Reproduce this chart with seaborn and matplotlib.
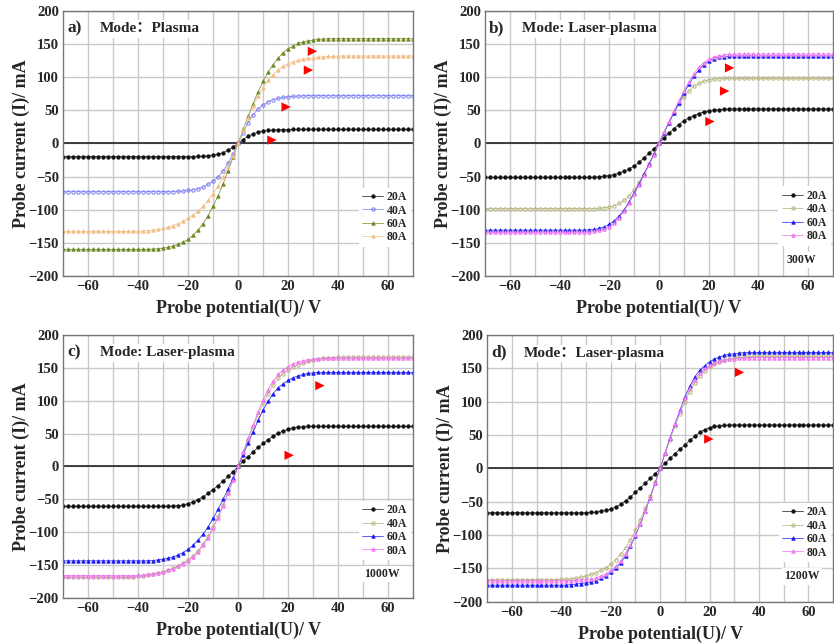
import matplotlib.pyplot as plt
import seaborn as sns

# Probe potential (V), shared by all curves
potential = [-70, -68, -66, -64, -62, -60, -58, -56, -54, -52,
             -50, -48, -46, -44, -42, -40, -38, -36, -34, -32,
             -30, -28, -26, -24, -22, -20, -18, -16, -14, -12,
             -10, -8, -6, -4, -2, 0, 2, 4, 6, 8,
             10, 12, 14, 16, 18, 20, 22, 24, 26, 28,
             30, 32, 34, 36, 38, 40, 42, 44, 46, 48,
             50, 52, 54, 56, 58, 60, 62, 64, 66, 68, 70]

currents = ["20A", "40A", "60A", "80A"]

# a) Mode: Plasma
a_20A = [-20, -20, -20, -20, -20, -20, -20, -20, -20, -20,
         -20, -20, -20, -20, -20, -20, -20, -20, -20, -20,
         -20, -20, -20, -20, -20, -19.9, -19.8, -19.6, -19.3, -18.7,
         -17.8, -16.3, -13.9, -10.3, -5.6, 0, 5.8, 10.8, 14.6, 17.1,
         18.7, 19.7, 20.2, 20.6, 20.7, 20.9, 21, 21, 21, 21,
         21, 21, 21, 21, 21, 21, 21, 21, 21, 21,
         21, 21, 21, 21, 21, 21, 21, 21, 21, 21, 21]
a_40A = [-73, -73, -73, -73, -73, -73, -73, -73, -73, -73,
         -73, -73, -73, -73, -73, -73, -73, -73, -73, -73,
         -73, -73, -72.8, -72.5, -72, -71, -70, -68.5, -66, -62,
         -57, -51, -42, -30, -16, 0, 16, 31, 43, 52,
         58, 63, 66, 68, 69.5, 70.5, 71, 71.5, 71.8, 72,
         72, 72, 72, 72, 72, 72, 72, 72, 72, 72,
         72, 72, 72, 72, 72, 72, 72, 72, 72, 72, 72]
a_60A = [-160, -160, -160, -160, -160, -160, -160, -160, -160, -160,
         -160, -160, -160, -160, -160, -160, -160, -160, -159.5, -159,
         -158, -157, -155, -152.5, -149, -145, -139, -131, -121, -109,
         -95, -79, -61, -41, -21, 0, 21, 41, 60, 78,
         94, 108, 119, 129, 137, 143, 147, 151, 153, 155,
         156, 157, 157.5, 158, 158, 158, 158, 158, 158, 158,
         158, 158, 158, 158, 158, 158, 158, 158, 158, 158, 158]
a_80A = [-133, -133, -133, -133, -133, -133, -133, -133, -133, -133,
         -133, -133, -133, -133, -133, -132.8, -132.4, -131.8, -131, -130,
         -128.5, -126.5, -124, -121, -117.5, -113, -108, -102, -95, -86,
         -76, -64, -51, -36, -19, 0, 20, 39, 56, 71,
         84, 95, 104, 111, 116.5, 120.5, 123.5, 125.5, 127, 128.3,
         129.3, 130.1, 130.7, 131.2, 131.5, 131.8, 132, 132, 132, 132,
         132, 132, 132, 132, 132, 132, 132, 132, 132, 132, 132]

# b) Laser-plasma, 300W
b_20A = [-51.5, -51.5, -51.5, -51.5, -51.5, -51.5, -51.5, -51.5, -51.5, -51.5,
         -51.5, -51.5, -51.5, -51.5, -51.5, -51.5, -51.5, -51.5, -51.5, -51.5,
         -51.5, -51.5, -51, -50.5, -49.5, -48.5, -47, -45, -42, -38.5,
         -34, -28.5, -22, -15, -8, 0, 8, 15, 22, 28.5,
         34, 38.5, 42, 45, 47.5, 49, 50, 51, 51.5, 52,
         52, 52, 52, 52, 52, 52, 52, 52, 52, 52,
         52, 52, 52, 52, 52, 52, 52, 52, 52, 52, 52]
b_40A = [-98.5, -98.5, -98.5, -98.5, -98.5, -98.5, -98.5, -98.5, -98.5, -98.5,
         -98.5, -98.5, -98.5, -98.5, -98.5, -98.5, -98.5, -98.5, -98.5, -98.5,
         -98.5, -98.5, -98.5, -98, -97.2, -96, -94, -90.5, -86, -79,
         -70, -59, -46, -31, -16, 0, 16, 31, 46, 59,
         70, 79, 86, 90.5, 94, 96, 97, 97.5, 98, 98,
         98, 98, 98, 98, 98, 98, 98, 98, 98, 98,
         98, 98, 98, 98, 98, 98, 98, 98, 98, 98, 98]
b_60A = [-131, -131, -131, -131, -131, -131, -131, -131, -131, -131,
         -131, -131, -131, -131, -131, -131, -131, -131, -131, -131,
         -131, -130.5, -130, -128.5, -126, -122, -117, -110, -100, -88,
         -75, -61, -46, -31, -16, 0, 16, 31, 46, 61,
         76, 89, 101, 111, 119, 124, 128, 130, 131, 131.5,
         132, 132, 132, 132, 132, 132, 132, 132, 132, 132,
         132, 132, 132, 132, 132, 132, 132, 132, 132, 132, 132]
b_80A = [-134, -134, -134, -134, -134, -134, -134, -134, -134, -134,
         -134, -134, -134, -134, -134, -134, -134, -134, -134, -134,
         -134, -133.7, -133, -131.5, -129, -125.5, -120, -112, -102, -90,
         -77, -63, -48, -33, -17, 0, 17, 33, 49, 64,
         79, 93, 105, 115, 122, 127, 130.5, 132.5, 133.5, 134.3,
         134.7, 135, 135, 135, 135, 135, 135, 135, 135, 135,
         135, 135, 135, 135, 135, 135, 135, 135, 135, 135, 135]

# c) Laser-plasma, 1000W
c_20A = [-60.5, -60.5, -60.5, -60.5, -60.5, -60.5, -60.5, -60.5, -60.5, -60.5,
         -60.5, -60.5, -60.5, -60.5, -60.5, -60.5, -60.5, -60.5, -60.5, -60.5,
         -60.5, -60.5, -60, -59.5, -58.5, -56.5, -54, -50.5, -46, -41,
         -35, -29, -22, -15, -8, 0, 8, 15, 22, 29,
         35, 41, 46, 50.5, 54, 56.5, 58.5, 59.8, 60.5, 61,
         61, 61, 61, 61, 61, 61, 61, 61, 61, 61,
         61, 61, 61, 61, 61, 61, 61, 61, 61, 61, 61]
c_40A = [-168, -168, -168, -168, -168, -168, -168, -168, -168, -168,
         -168, -168, -168, -168, -167.5, -167, -166.5, -165.5, -164, -162.5,
         -160.5, -158, -155, -151, -147, -142, -136, -128, -118, -106,
         -92, -76, -58, -40, -20, 0, 21, 41, 60, 79,
         96, 111, 124, 134, 141, 147, 151, 155, 158, 160,
         162, 163.5, 164.5, 165, 165.5, 166, 166, 166, 166, 166,
         166, 166, 166, 166, 166, 166, 166, 166, 166, 166, 166]
c_60A = [-143.5, -143.5, -143.5, -143.5, -143.5, -143.5, -143.5, -143.5, -143.5, -143.5,
         -143.5, -143.5, -143.5, -143.5, -143.5, -143.5, -143.5, -143.5, -143, -142,
         -141, -139.5, -137.5, -134.5, -131, -126, -120, -112, -103, -92,
         -79, -65, -50, -34, -17, 0, 18, 36, 53, 70,
         86, 99, 111, 120, 126, 131, 135, 138, 140, 141.5,
         142.5, 143, 143, 143, 143, 143, 143, 143, 143, 143,
         143, 143, 143, 143, 143, 143, 143, 143, 143, 143, 143]
c_80A = [-166, -166, -166, -166, -166, -166, -166, -166, -166, -166,
         -166, -166, -166, -166, -166, -165.5, -165, -164, -163, -161.5,
         -160, -158, -155.5, -152, -148, -143, -137, -130, -120, -108,
         -94, -78, -60, -41, -21, 0, 22, 43, 63, 83,
         101, 117, 130, 140, 147, 152, 156, 159, 161, 162.5,
         163.5, 164, 164.5, 165, 165, 165, 165, 165, 165, 165,
         165, 165, 165, 165, 165, 165, 165, 165, 165, 165, 165]

# d) Laser-plasma, 1200W
d_20A = [-66.5, -66.5, -66.5, -66.5, -66.5, -66.5, -66.5, -66.5, -66.5, -66.5,
         -66.5, -66.5, -66.5, -66.5, -66.5, -66.5, -66.5, -66.5, -66.5, -66.5,
         -66.5, -66, -65.5, -64.5, -63, -61, -58, -54, -48.5, -42.5,
         -36, -29, -22, -15, -8, 0, 8, 15, 22, 29,
         35, 42, 48, 54, 58, 61, 63, 64, 64.5, 65,
         65, 65, 65, 65, 65, 65, 65, 65, 65, 65,
         65, 65, 65, 65, 65, 65, 65, 65, 65, 65, 65]
d_40A = [-167, -167, -167, -167, -167, -167, -167, -167, -167, -167,
         -167, -167, -167, -167, -167, -166.5, -166, -165.5, -164.5, -163,
         -161.5, -159, -156.5, -153, -149, -144, -137, -129, -119, -107,
         -93, -77, -60, -41, -21, 0, 22, 43, 63, 82,
         100, 115, 128, 138, 146, 152, 156, 159.5, 162, 164,
         165.5, 166.5, 167, 167.5, 168, 168, 168, 168, 168, 168,
         168, 168, 168, 168, 168, 168, 168, 168, 168, 168, 168]
d_60A = [-175, -175, -175, -175, -175, -175, -175, -175, -175, -175,
         -175, -175, -175, -175, -175, -175, -175, -174, -173.5, -172.5,
         -171.5, -170, -168, -165, -161, -156, -150, -142, -131, -117,
         -101, -83, -64, -44, -22, 0, 23, 46, 67, 87,
         107, 123, 137, 147, 154, 160, 164, 167, 169.5, 171,
         172, 173, 173.5, 174, 174, 174, 174, 174, 174, 174,
         174, 174, 174, 174, 174, 174, 174, 174, 174, 174, 174]
d_80A = [-168, -168, -168, -168, -168, -168, -168, -168, -168, -168,
         -168, -168, -168, -168, -168, -168, -168, -168, -167.5, -167,
         -166.5, -165.5, -164, -161.5, -158, -153, -147, -139, -128, -115,
         -100, -83, -64, -44, -22, 0, 23, 45, 66, 86,
         105, 120, 133, 143, 150, 155, 158.5, 161, 162.5, 163.5,
         164.5, 165, 165.5, 166, 166, 166, 166, 166, 166, 166,
         166, 166, 166, 166, 166, 166, 166, 166, 166, 166, 166]

# red arrow-heads drawn in the figure
a_marks_x = [13.5, 19.2, 28.1, 29.7]
a_marks_y = [5, 55, 110.6, 139]
b_marks_x = [20.5, 26.4, 28.4]
b_marks_y = [33, 79, 114]
c_marks_x = [20.4, 32.7]
c_marks_y = [17, 123]
d_marks_x = [19.7, 32.1]
d_marks_y = [44, 144]

sns.set_style("white")
plt.rcParams["font.family"] = ["Liberation Serif", "Noto Sans CJK SC", "DejaVu Sans"]
plt.rcParams["font.weight"] = "bold"
plt.rcParams["axes.labelweight"] = "bold"

style_a = [("#111111", "o", "#111111"), ("#7b7bf2", "o", "none"),
           ("#6f8a25", "^", "#6f8a25"), ("#f2bf88", "^", "#f2bf88")]
style_laser = [("#111111", "o", "#111111"), ("#b4b47a", "o", "none"),
               ("#1c1cf5", "^", "#1c1cf5"), ("#f06cf0", "^", "#f7a6f7")]

panels = [
    ([0.0755, 0.571, 0.420, 0.412], "a)", "Mode：Plasma", None,
     [a_20A, a_40A, a_60A, a_80A], style_a, a_marks_x, a_marks_y, 0.10),
    ([0.5815, 0.571, 0.4173, 0.412], "b)", "Mode: Laser-plasma", "300W",
     [b_20A, b_40A, b_60A, b_80A], style_laser, b_marks_x, b_marks_y, 0.105),
    ([0.0755, 0.070, 0.420, 0.409], "c)", "Mode: Laser-plasma", "1000W",
     [c_20A, c_40A, c_60A, c_80A], style_laser, c_marks_x, c_marks_y, 0.135),
    ([0.584, 0.064, 0.415, 0.415], "d)", "Mode：Laser-plasma", "1200W",
     [d_20A, d_40A, d_60A, d_80A], style_laser, d_marks_x, d_marks_y, 0.14),
]

fig = plt.figure(figsize=(8.34, 6.43), dpi=100)

for rect, tag, mode, power, series, styles, mx, my, leg_y in panels:
    ax = fig.add_axes(rect)
    for label, values, (color, marker, face) in zip(currents, series, styles):
        sns.lineplot(x=potential, y=values, ax=ax, color=color, marker=marker,
                     markersize=2.4, markerfacecolor=face, markeredgecolor=color,
                     markeredgewidth=0.7, linewidth=0.5, label=label)
    sns.scatterplot(x=mx, y=my, ax=ax, marker=">", color="red", s=45,
                    edgecolor="none", legend=False, zorder=5)
    ax.axhline(0, color="#222222", lw=1.2, zorder=1)

    ax.set_xlim(-70, 70)
    ax.set_ylim(-200, 200)
    ax.set_xticks([-60, -40, -20, 0, 20, 40, 60])
    ax.set_xticks([-50, -30, -10, 10, 30, 50], minor=True)
    ax.set_yticks([-200, -150, -100, -50, 0, 50, 100, 150, 200])
    ax.grid(True, which="both", color="#c9c9c9", lw=1.0)
    ax.tick_params(length=0, labelsize=10.5, pad=3)
    for sp in ax.spines.values():
        sp.set_color("#777777")
        sp.set_linewidth(1.0)

    ax.set_xlabel("Probe potential(U)/ V", fontsize=13, labelpad=5)
    ax.set_ylabel("Probe current (I)/ mA", fontsize=13, labelpad=-1)

    box = dict(facecolor="white", edgecolor="none", pad=1.5)
    ax.text(0.012, 0.965, tag, transform=ax.transAxes, fontsize=12.5,
            va="top", ha="left", bbox=box, zorder=6)
    ax.text(0.105, 0.932, mode, transform=ax.transAxes, fontsize=11,
            va="center", ha="left", bbox=box, zorder=6)
    if power:
        ax.text(0.91, leg_y - 0.045, power, transform=ax.transAxes, fontsize=8.5,
                va="center", ha="center", bbox=box, zorder=6)

    leg = ax.legend(loc="lower right", bbox_to_anchor=(1.0, leg_y), fontsize=8.5,
                    frameon=True, fancybox=False, handlelength=1.8,
                    handletextpad=0.3, labelspacing=0.12, borderpad=0.3,
                    borderaxespad=0.2)
    leg.get_frame().set_facecolor("white")
    leg.get_frame().set_edgecolor("none")
    leg.get_frame().set_alpha(1)
    leg.set_zorder(6)

fig.savefig("out.png", dpi=100)
